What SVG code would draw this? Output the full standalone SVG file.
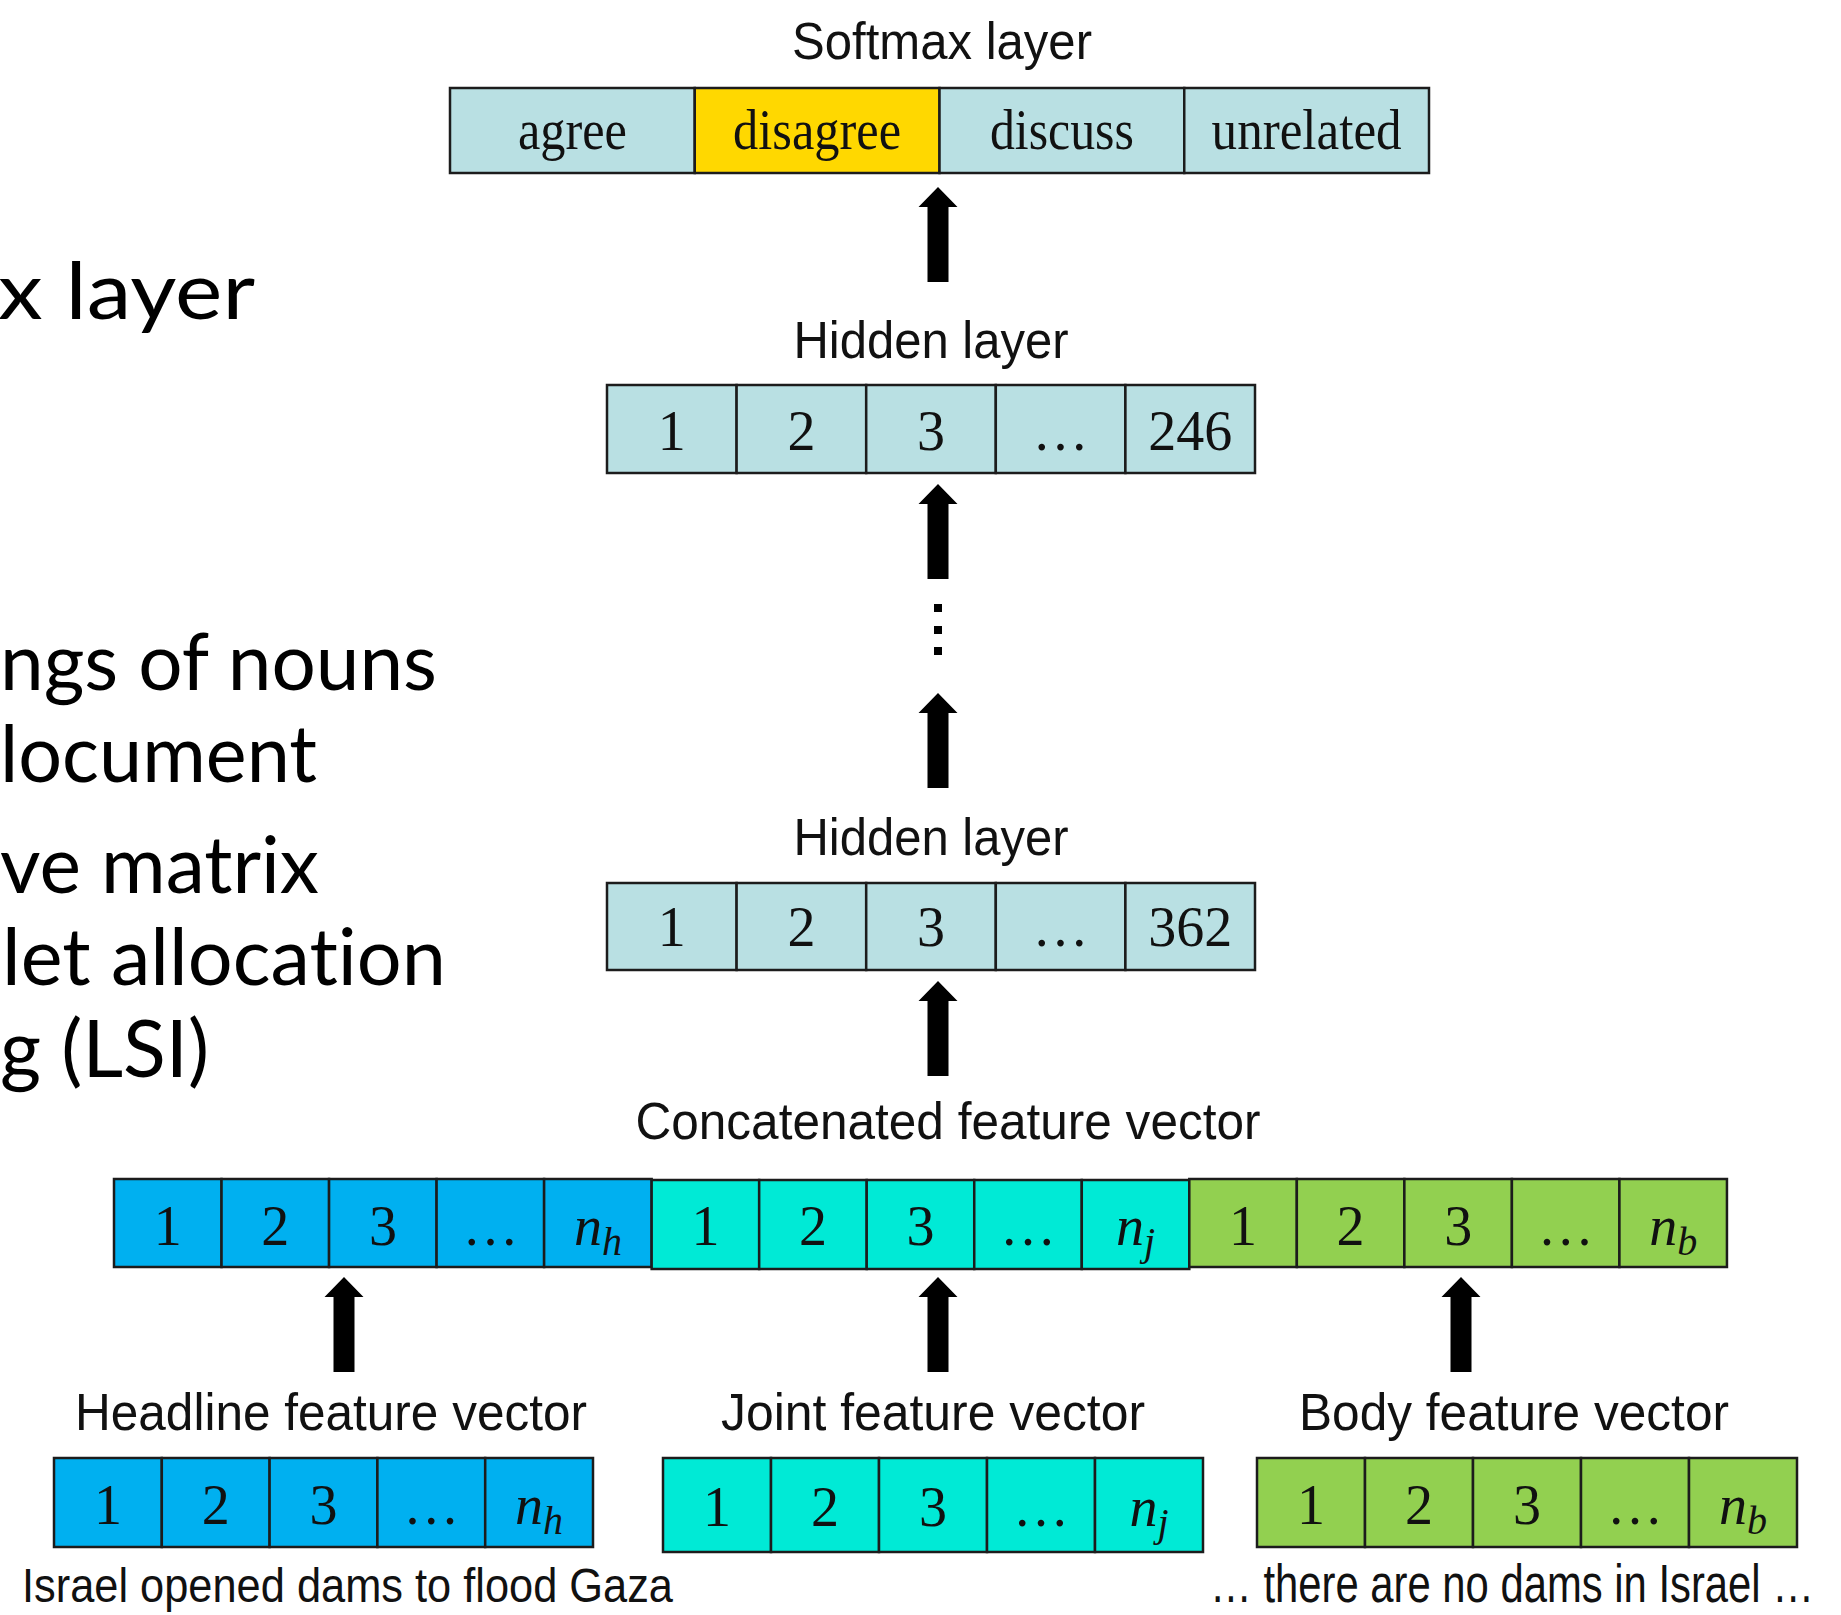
<svg xmlns="http://www.w3.org/2000/svg" xmlns:xlink="http://www.w3.org/1999/xlink" width="1841" height="1615" viewBox="0 0 1841 1615">
  <style>
    .cell { stroke: #1c1c1c; stroke-width: 2.5; }
    .soft { fill: #b9e0e3; }
    .pick { fill: #ffd800; }
    .head { fill: #00b0f0; }
    .joint { fill: #00ead6; }
    .body { fill: #92d050; }
    .num { font-family: "Liberation Serif", "Times New Roman", serif; font-size: 56px; fill: #111; text-anchor: middle; }
    .word { font-family: "Liberation Serif", "Times New Roman", serif; font-size: 58px; fill: #111; text-anchor: middle; }
    .lab { font-family: "Liberation Sans", Arial, sans-serif; font-size: 52px; fill: #111; text-anchor: middle; }
    .cap { font-family: "Liberation Sans", Arial, sans-serif; font-size: 48px; fill: #111; }
    .slide { font-family: Lato, "Open Sans", sans-serif; font-size: 80px; fill: #000; font-variant-ligatures: none; }
    .it { font-style: italic; }
    .sub { font-style: italic; font-size: 40px; }
  </style>
  <defs>
    <!-- block arrow, tip at origin, pointing up -->
    <path id="uparrow" d="M0,0 L19.5,20 L10.5,20 L10.5,95 L-10.5,95 L-10.5,20 L-19.5,20 Z" fill="#000"/>
  </defs>

  <rect width="1841" height="1615" fill="#fff"/>

  <!-- slide text on the left -->
  <g id="slide-text">
    <text class="slide" x="-2" y="319" font-size="92" textLength="257" lengthAdjust="spacingAndGlyphs">x layer</text>
    <text class="slide" x="0" y="690" textLength="437" lengthAdjust="spacingAndGlyphs">ngs of nouns</text>
    <text class="slide" x="0" y="782" textLength="317" lengthAdjust="spacingAndGlyphs">locument</text>
    <text class="slide" x="0" y="893" textLength="319" lengthAdjust="spacingAndGlyphs">ve matrix</text>
    <text class="slide" x="2" y="985" textLength="444" lengthAdjust="spacingAndGlyphs">let allocation</text>
    <text class="slide" x="0" y="1077" textLength="209" lengthAdjust="spacingAndGlyphs">g (LSI)</text>
  </g>

  <!-- softmax output -->
  <g id="softmax-layer">
    <text class="lab" x="942" y="59" textLength="300" lengthAdjust="spacingAndGlyphs">Softmax layer</text>
    <rect class="cell soft" x="450" y="88" width="244.75" height="85"/>
    <rect class="cell pick" x="694.75" y="88" width="244.75" height="85"/>
    <rect class="cell soft" x="939.5" y="88" width="244.75" height="85"/>
    <rect class="cell soft" x="1184.25" y="88" width="244.75" height="85"/>
    <text class="word" x="572.4" y="149" textLength="109" lengthAdjust="spacingAndGlyphs">agree</text>
    <text class="word" x="817.1" y="149" textLength="168" lengthAdjust="spacingAndGlyphs">disagree</text>
    <text class="word" x="1061.9" y="149" textLength="144" lengthAdjust="spacingAndGlyphs">discuss</text>
    <text class="word" x="1306.6" y="149" textLength="190" lengthAdjust="spacingAndGlyphs">unrelated</text>
  </g>

  <!-- upper hidden layer -->
  <g id="hidden-layer-246">
    <text class="lab" x="931" y="358" textLength="275" lengthAdjust="spacingAndGlyphs">Hidden layer</text>
    <rect class="cell soft" x="607" y="385" width="129.6" height="88"/>
    <rect class="cell soft" x="736.6" y="385" width="129.6" height="88"/>
    <rect class="cell soft" x="866.2" y="385" width="129.6" height="88"/>
    <rect class="cell soft" x="995.8" y="385" width="129.6" height="88"/>
    <rect class="cell soft" x="1125.4" y="385" width="129.6" height="88"/>
    <text class="num" x="671.8" y="450">1</text>
    <text class="num" x="801.4" y="450">2</text>
    <text class="num" x="931" y="450">3</text>
    <text class="num" x="1060.6" y="450">…</text>
    <text class="num" x="1190.2" y="450">246</text>
  </g>

  <!-- lower hidden layer -->
  <g id="hidden-layer-362">
    <text class="lab" x="931" y="855" textLength="275" lengthAdjust="spacingAndGlyphs">Hidden layer</text>
    <rect class="cell soft" x="607" y="883" width="129.6" height="87"/>
    <rect class="cell soft" x="736.6" y="883" width="129.6" height="87"/>
    <rect class="cell soft" x="866.2" y="883" width="129.6" height="87"/>
    <rect class="cell soft" x="995.8" y="883" width="129.6" height="87"/>
    <rect class="cell soft" x="1125.4" y="883" width="129.6" height="87"/>
    <text class="num" x="671.8" y="946">1</text>
    <text class="num" x="801.4" y="946">2</text>
    <text class="num" x="931" y="946">3</text>
    <text class="num" x="1060.6" y="946">…</text>
    <text class="num" x="1190.2" y="946">362</text>
  </g>

  <!-- concatenated feature vector -->
  <g id="concatenated-vector">
    <text class="lab" x="948" y="1139" textLength="625" lengthAdjust="spacingAndGlyphs">Concatenated  feature  vector</text>
    <rect class="cell head" x="114" y="1179" width="107.53" height="88"/>
    <rect class="cell head" x="221.53" y="1179" width="107.53" height="88"/>
    <rect class="cell head" x="329.06" y="1179" width="107.53" height="88"/>
    <rect class="cell head" x="436.59" y="1179" width="107.53" height="88"/>
    <rect class="cell head" x="544.12" y="1179" width="107.53" height="88"/>
    <rect class="cell joint" x="651.65" y="1180" width="107.53" height="89"/>
    <rect class="cell joint" x="759.18" y="1180" width="107.53" height="89"/>
    <rect class="cell joint" x="866.71" y="1180" width="107.53" height="89"/>
    <rect class="cell joint" x="974.24" y="1180" width="107.53" height="89"/>
    <rect class="cell joint" x="1081.77" y="1180" width="107.53" height="89"/>
    <rect class="cell body" x="1189.3" y="1179" width="107.53" height="88"/>
    <rect class="cell body" x="1296.83" y="1179" width="107.53" height="88"/>
    <rect class="cell body" x="1404.36" y="1179" width="107.53" height="88"/>
    <rect class="cell body" x="1511.89" y="1179" width="107.53" height="88"/>
    <rect class="cell body" x="1619.42" y="1179" width="107.53" height="88"/>
    <text class="num" x="167.8" y="1245">1</text>
    <text class="num" x="275.3" y="1245">2</text>
    <text class="num" x="382.9" y="1245">3</text>
    <text class="num" x="490.4" y="1245">…</text>
    <text class="num" x="597.9" y="1245"><tspan class="it">n</tspan><tspan class="sub" dy="10">h</tspan></text>
    <text class="num" x="705.5" y="1245">1</text>
    <text class="num" x="813" y="1245">2</text>
    <text class="num" x="920.5" y="1245">3</text>
    <text class="num" x="1028" y="1245">…</text>
    <text class="num" x="1135.6" y="1245"><tspan class="it">n</tspan><tspan class="sub" dy="10">j</tspan></text>
    <text class="num" x="1243.1" y="1245">1</text>
    <text class="num" x="1350.6" y="1245">2</text>
    <text class="num" x="1458.2" y="1245">3</text>
    <text class="num" x="1565.7" y="1245">…</text>
    <text class="num" x="1673.2" y="1245"><tspan class="it">n</tspan><tspan class="sub" dy="10">b</tspan></text>
  </g>

  <!-- headline input -->
  <g id="headline-vector">
    <text class="lab" x="331" y="1430" textLength="512" lengthAdjust="spacingAndGlyphs">Headline  feature  vector</text>
    <rect class="cell head" x="54" y="1458" width="107.8" height="89"/>
    <rect class="cell head" x="161.8" y="1458" width="107.8" height="89"/>
    <rect class="cell head" x="269.6" y="1458" width="107.8" height="89"/>
    <rect class="cell head" x="377.4" y="1458" width="107.8" height="89"/>
    <rect class="cell head" x="485.2" y="1458" width="107.8" height="89"/>
    <text class="num" x="107.9" y="1524">1</text>
    <text class="num" x="215.7" y="1524">2</text>
    <text class="num" x="323.5" y="1524">3</text>
    <text class="num" x="431.3" y="1524">…</text>
    <text class="num" x="539.1" y="1524"><tspan class="it">n</tspan><tspan class="sub" dy="10">h</tspan></text>
    <text class="cap" x="22" y="1602" textLength="651" lengthAdjust="spacingAndGlyphs">Israel opened dams to flood Gaza</text>
  </g>

  <!-- joint input -->
  <g id="joint-vector">
    <text class="lab" x="933" y="1430" textLength="424" lengthAdjust="spacingAndGlyphs">Joint  feature  vector</text>
    <rect class="cell joint" x="663" y="1458" width="108" height="94"/>
    <rect class="cell joint" x="771" y="1458" width="108" height="94"/>
    <rect class="cell joint" x="879" y="1458" width="108" height="94"/>
    <rect class="cell joint" x="987" y="1458" width="108" height="94"/>
    <rect class="cell joint" x="1095" y="1458" width="108" height="94"/>
    <text class="num" x="717" y="1526">1</text>
    <text class="num" x="825" y="1526">2</text>
    <text class="num" x="933" y="1526">3</text>
    <text class="num" x="1041" y="1526">…</text>
    <text class="num" x="1149" y="1526"><tspan class="it">n</tspan><tspan class="sub" dy="10">j</tspan></text>
  </g>

  <!-- body input -->
  <g id="body-vector">
    <text class="lab" x="1514" y="1430" textLength="430" lengthAdjust="spacingAndGlyphs">Body  feature  vector</text>
    <rect class="cell body" x="1257" y="1458" width="108" height="89"/>
    <rect class="cell body" x="1365" y="1458" width="108" height="89"/>
    <rect class="cell body" x="1473" y="1458" width="108" height="89"/>
    <rect class="cell body" x="1581" y="1458" width="108" height="89"/>
    <rect class="cell body" x="1689" y="1458" width="108" height="89"/>
    <text class="num" x="1311" y="1524">1</text>
    <text class="num" x="1419" y="1524">2</text>
    <text class="num" x="1527" y="1524">3</text>
    <text class="num" x="1635" y="1524">…</text>
    <text class="num" x="1743" y="1524"><tspan class="it">n</tspan><tspan class="sub" dy="10">b</tspan></text>
    <text class="cap" transform="translate(1210,1602) scale(1,1.13)" x="0" y="0" font-size="42" textLength="604" lengthAdjust="spacingAndGlyphs">… there are no dams in Israel …</text>
  </g>

  <!-- connectors -->
  <g id="connectors">
    <use xlink:href="#uparrow" x="938" y="187"/>
    <use xlink:href="#uparrow" x="938" y="484"/>
    <rect x="934" y="604" width="8" height="8" fill="#000"/>
    <rect x="934" y="626" width="8" height="8" fill="#000"/>
    <rect x="934" y="647" width="8" height="8" fill="#000"/>
    <use xlink:href="#uparrow" x="938" y="693"/>
    <use xlink:href="#uparrow" x="938" y="981"/>
    <use xlink:href="#uparrow" x="344" y="1277"/>
    <use xlink:href="#uparrow" x="938" y="1277"/>
    <use xlink:href="#uparrow" x="1461" y="1277"/>
  </g>
</svg>
